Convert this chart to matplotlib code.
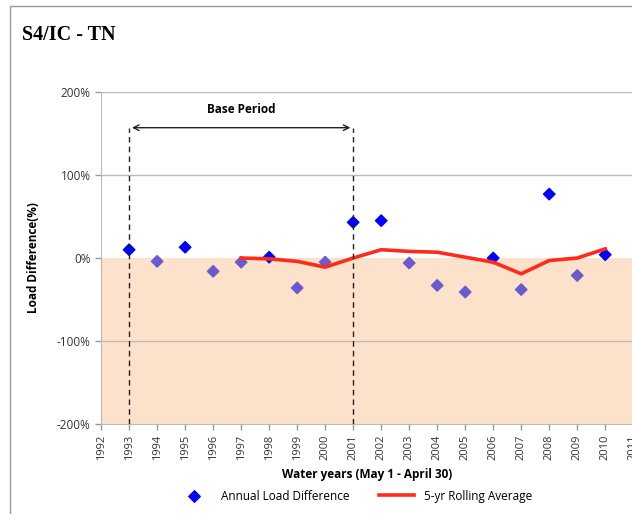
import numpy as np
import matplotlib
matplotlib.use("Agg")
import matplotlib.pyplot as plt
from matplotlib.patches import Rectangle

# values (percent)
years = [1993, 1994, 1995, 1996, 1997, 1998, 1999, 2000, 2001,
         2002, 2003, 2004, 2005, 2006, 2007, 2008, 2009, 2010]
annual_diff = [10, -4, 13, -16, -5, 1, -36, -5, 43,
               45, -6, -33, -41, 0, -38, 77, -21, 4]
roll_years = [1997, 1998, 1999, 2000, 2001, 2002, 2003, 2004, 2005,
              2006, 2007, 2008, 2009, 2010]
roll_avg = [0, -1, -4, -11, 0, 10, 8, 7, 1, -5, -19, -3, 0, 11]
base_start, base_end = 1993, 2001
base_y = 157
xticks = list(range(1992, 2012))
yticks = [-200, -100, 0, 100, 200]

plt.rcParams['font.family'] = ['Open Sans', 'DejaVu Sans']

fig = plt.figure(figsize=(6.32, 5.14), dpi=100)
ax = fig.add_axes([0.160, 0.175, 0.842, 0.646])

# points below zero look tinted by the shaded band in the original
colors = ['#0000FF' if v >= 0 else '#6A5ACD' for v in annual_diff]
ax.axhspan(-200, 0, color='#FCE1CB', zorder=0, lw=0)
ax.scatter(years, annual_diff, marker='D', s=34, c=colors, zorder=3)
ax.scatter([], [], marker='D', s=34, color='#0000FF', label='Annual Load Difference')
ax.plot(roll_years, roll_avg, color='#FF2A1A', lw=2.6, zorder=4,
        label='5-yr Rolling Average')

for y in [200, 100, -100]:
    ax.axhline(y, color='#BBBBBB', lw=1, zorder=1)

# base period marker
for x in [base_start, base_end]:
    ax.plot([x, x], [-200, base_y], ls=(0, (4, 3)), color='#222222', lw=1, zorder=5)
ax.annotate('', xy=(base_start, base_y), xytext=(base_end, base_y),
            arrowprops=dict(arrowstyle='<->', color='#222222', lw=1), zorder=5)
ax.text((base_start + base_end) / 2, base_y + 14, 'Base Period', ha='center',
        va='bottom', fontsize=8.5, fontweight='bold')

ax.set_xlim(1992, 2011)
ax.set_ylim(-200, 200)
ax.set_xticks(xticks)
ax.set_xticklabels([str(y) for y in xticks], rotation=90, fontsize=8, color='#333333')
ax.set_yticks(yticks)
ax.set_yticklabels([f'{y}%' for y in yticks], fontsize=8.5, color='#333333')
ax.tick_params(axis='both', length=4, color='#999999', width=1)
for s in ['top', 'right']:
    ax.spines[s].set_visible(False)
for s in ['left', 'bottom']:
    ax.spines[s].set_color('#BBBBBB')

ax.set_ylabel('Load Difference(%)', fontsize=8.5, fontweight='bold', labelpad=12)
ax.set_xlabel('Water years (May 1 - April 30)', fontsize=8.5, fontweight='bold', labelpad=6)

fig.legend(loc='center', bbox_to_anchor=(0.56, 0.035), ncol=2, frameon=False,
           fontsize=8.5, handlelength=3, columnspacing=2.5)

fig.text(0.035, 0.932, 'S4/IC - TN', fontsize=14.5, fontweight='bold',
         family='Liberation Serif', va='center')

fig.patches.append(Rectangle((10 / 632, -0.1), 1.2, 1.088, transform=fig.transFigure,
                             fill=False, edgecolor='#999999', lw=1))

fig.savefig('out.png', dpi=100)
